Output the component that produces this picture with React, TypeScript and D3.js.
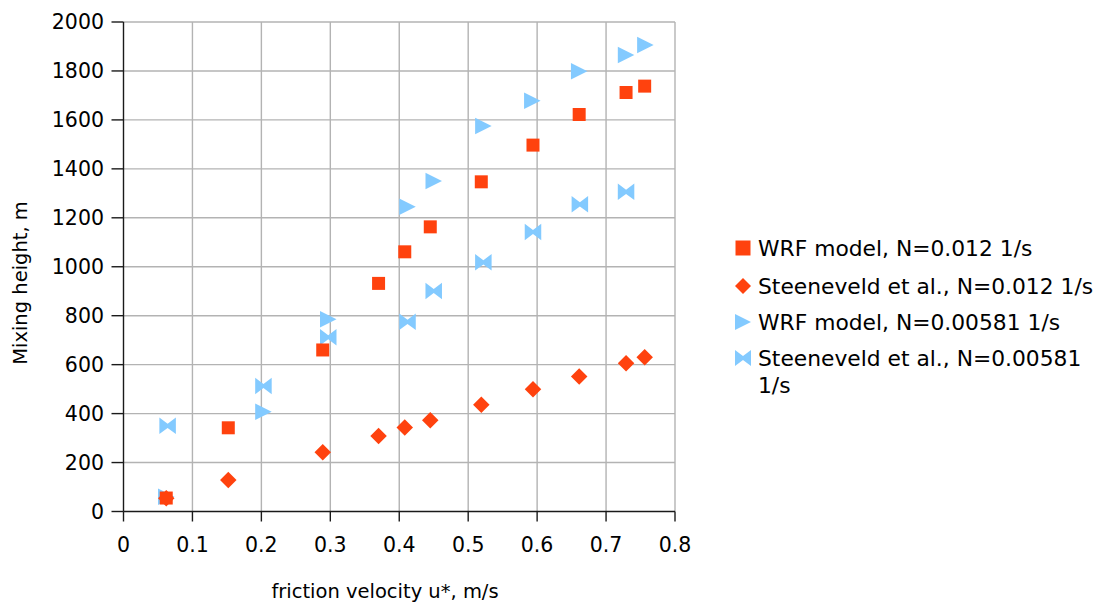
import React from "react";
import * as d3 from "d3";

// Friction velocity u* (m/s) for the N = 0.012 1/s runs
const uStarStrong = [0.062, 0.152, 0.289, 0.37, 0.408, 0.445, 0.519, 0.594, 0.661, 0.729, 0.756];
// Mixing height (m), WRF model, N = 0.012 1/s
const wrfStrong = [55, 342, 660, 932, 1061, 1163, 1347, 1497, 1622, 1712, 1738];
// Mixing height (m), Steeneveld et al., N = 0.012 1/s
const steenStrong = [54, 129, 242, 308, 343, 373, 436, 499, 552, 606, 630];

// Friction velocity u* (m/s) for the N = 0.00581 1/s runs
const uStarWeak = [0.062, 0.203, 0.297, 0.412, 0.45, 0.522, 0.593, 0.661, 0.729, 0.757];
// Mixing height (m), WRF model, N = 0.00581 1/s
const wrfWeak = [60, 408, 786, 1245, 1350, 1575, 1678, 1799, 1865, 1906];
// Friction velocity and mixing height, Steeneveld et al., N = 0.00581 1/s
const uStarSteenWeak = [0.064, 0.203, 0.297, 0.412, 0.45, 0.522, 0.594, 0.662, 0.729];
const steenWeak = [350, 513, 712, 775, 901, 1018, 1142, 1255, 1306];

const xTicks = [0, 0.1, 0.2, 0.3, 0.4, 0.5, 0.6, 0.7, 0.8];
const yTicks = [0, 200, 400, 600, 800, 1000, 1200, 1400, 1600, 1800, 2000];

const legendLabels = [
  ["WRF model, N=0.012 1/s"],
  ["Steeneveld et al., N=0.012 1/s"],
  ["WRF model, N=0.00581 1/s"],
  ["Steeneveld et al., N=0.00581", "1/s"],
];

const RED = "#ff420e";
const BLUE = "#83caff";
const FONT = "'DejaVu Sans', Verdana, sans-serif";

type Shape = "square" | "diamond" | "triangle" | "bowtie";

function markerPath(shape: Shape, cx: number, cy: number, s: number): string {
  const h = s / 2;
  const p = d3.path();
  if (shape === "square") {
    p.rect(cx - h, cy - h, s, s);
  } else if (shape === "diamond") {
    p.moveTo(cx, cy - h);
    p.lineTo(cx + h, cy);
    p.lineTo(cx, cy + h);
    p.lineTo(cx - h, cy);
    p.closePath();
  } else if (shape === "triangle") {
    p.moveTo(cx - h, cy - h);
    p.lineTo(cx + h, cy);
    p.lineTo(cx - h, cy + h);
    p.closePath();
  } else {
    p.moveTo(cx - h, cy - h);
    p.lineTo(cx, cy - h * 0.25);
    p.lineTo(cx + h, cy - h);
    p.lineTo(cx + h, cy + h);
    p.lineTo(cx, cy + h * 0.25);
    p.lineTo(cx - h, cy + h);
    p.closePath();
  }
  return p.toString();
}

export default function App() {
  const width = 1102;
  const height = 608;
  const left = 123.5;
  const right = 675;
  const top = 22;
  const bottom = 511.5;

  const x = d3.scaleLinear().domain([0, 0.8]).range([left, right]);
  const y = d3.scaleLinear().domain([0, 2000]).range([bottom, top]);

  const series: { xs: number[]; ys: number[]; shape: Shape; color: string; size: number }[] = [
    { xs: uStarWeak, ys: wrfWeak, shape: "triangle", color: BLUE, size: 16.5 },
    { xs: uStarSteenWeak, ys: steenWeak, shape: "bowtie", color: BLUE, size: 16.5 },
    { xs: uStarStrong, ys: wrfStrong, shape: "square", color: RED, size: 13 },
    { xs: uStarStrong, ys: steenStrong, shape: "diamond", color: RED, size: 16.5 },
  ];

  const legendOrder: { shape: Shape; color: string; size: number }[] = [
    { shape: "square", color: RED, size: 15 },
    { shape: "diamond", color: RED, size: 16 },
    { shape: "triangle", color: BLUE, size: 16 },
    { shape: "bowtie", color: BLUE, size: 16 },
  ];
  const legendY = [248, 286, 322, 358];

  return (
    <svg
      width={width}
      height={height}
      style={{ position: "absolute", left: 0, top: 0, background: "#fff" }}
      fontFamily={FONT}
    >
      {/* grid */}
      <g stroke="#b3b3b3" strokeWidth={1.4}>
        {xTicks.slice(1).map((t) => (
          <line key={"gx" + t} x1={x(t)} x2={x(t)} y1={top} y2={bottom} />
        ))}
        {yTicks.slice(1).map((t) => (
          <line key={"gy" + t} x1={left} x2={right} y1={y(t)} y2={y(t)} />
        ))}
      </g>

      {/* axes */}
      <g stroke="#1a1a1a" strokeWidth={1.4}>
        <line x1={left} x2={left} y1={top} y2={bottom} />
        <line x1={left} x2={right} y1={bottom} y2={bottom} />
        {yTicks.map((t) => (
          <line key={"ty" + t} x1={left - 12} x2={left} y1={y(t)} y2={y(t)} />
        ))}
        {xTicks.map((t) => (
          <line key={"tx" + t} x1={x(t)} x2={x(t)} y1={bottom} y2={bottom + 10} />
        ))}
      </g>

      {/* tick labels */}
      <g fontSize={20.5} fill="#000">
        {yTicks.map((t) => (
          <text key={"ly" + t} x={104} y={y(t)} dy="0.36em" textAnchor="end">
            {t}
          </text>
        ))}
        {xTicks.map((t) => (
          <text key={"lx" + t} x={x(t)} y={552} textAnchor="middle">
            {d3.format("")(t)}
          </text>
        ))}
      </g>

      {/* axis titles */}
      <text x={385} y={598} fontSize={19.5} textAnchor="middle" fill="#000">
        friction velocity u*, m/s
      </text>
      <text
        transform={`translate(27, 283) rotate(-90)`}
        fontSize={19.5}
        textAnchor="middle"
        fill="#000"
      >
        Mixing height, m
      </text>

      {/* data */}
      {series.map((s, si) => (
        <g key={"s" + si} fill={s.color}>
          {s.xs.map((xv, i) => (
            <path key={i} d={markerPath(s.shape, x(xv), y(s.ys[i]), s.size)} />
          ))}
        </g>
      ))}

      {/* legend */}
      {legendOrder.map((m, i) => (
        <g key={"lg" + i}>
          <path d={markerPath(m.shape, 743, legendY[i], m.size)} fill={m.color} />
          {legendLabels[i].map((line, j) => (
            <text key={j} x={758} y={legendY[i] + 8 + j * 27} fontSize={21.8} fill="#000">
              {line}
            </text>
          ))}
        </g>
      ))}
    </svg>
  );
}
